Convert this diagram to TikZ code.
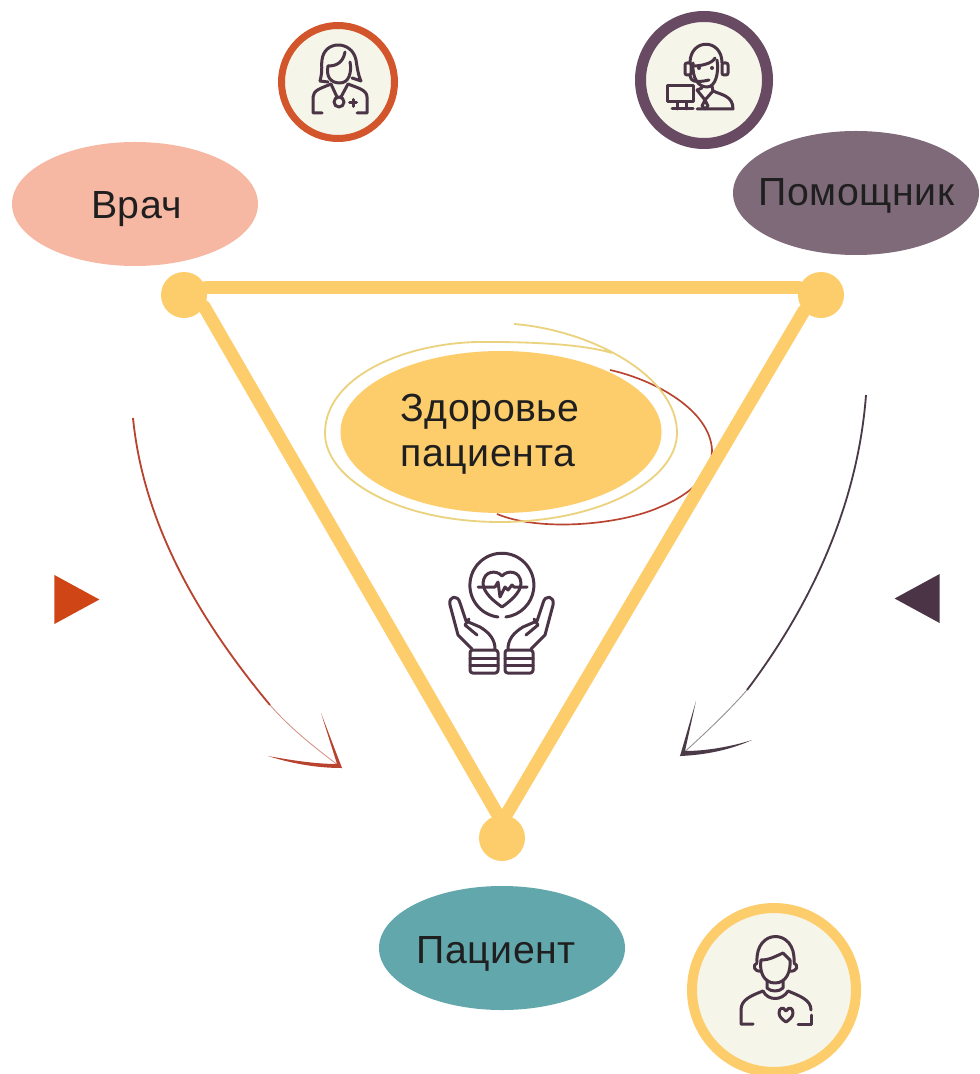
\documentclass[tikz,border=0pt]{standalone}
\usepackage{fontspec}
\setmainfont[LetterSpace=1.5]{Liberation Sans}
\usetikzlibrary{shapes.geometric, positioning}
\definecolor{sand}{HTML}{FDCD6B}
\definecolor{peach}{HTML}{F7B8A3}
\definecolor{plum}{HTML}{7F6A7A}
\definecolor{teal2}{HTML}{62A7AC}
\definecolor{cream}{HTML}{F5F5E9}
\definecolor{rust}{HTML}{D2552B}
\definecolor{grape}{HTML}{684A63}
\definecolor{inkline}{HTML}{4A3445}
\definecolor{pencilred}{HTML}{B8432F}
\definecolor{pencildark}{HTML}{4A3A48}
\definecolor{pencilyellow}{HTML}{EBD27E}
\definecolor{markred}{HTML}{CF4516}
% text of an ellipse: it must not widen the shape
\newcommand{\blobtext}[3]{\smash{\makebox[0pt]{\hspace*{#1}\raisebox{#2}{#3}}}}
\tikzset{
	blob/.style={ellipse, draw=none, inner sep=0pt, text=black!88,
		minimum width=7.38cm, minimum height=3.72cm,
		font=\fontsize{33.5}{38.3}\selectfont},
	cornerdot/.style={circle, fill=sand, inner sep=0pt, minimum size=1.38cm},
	sideline/.style={draw=sand, line width=0.39cm, line cap=round},
	iconring/.style={circle, fill=cream, inner sep=0pt},
	iconline/.style={draw=inkline, line width=0.09cm, line cap=round, line join=round},
	marker/.style={isosceles triangle, isosceles triangle stretches, inner sep=0pt,
		minimum height=1.35cm, minimum width=1.47cm, anchor=apex}
}
\begin{document}
\begin{tikzpicture}[x=0.03cm,y=-0.03cm]
	\useasboundingbox (0,0) rectangle (979,1074);
	% pencil rings round the centre
	\node[blob, fill=sand, minimum width=9.63cm, minimum height=4.86cm] (health) at (501,432) {%
		\blobtext{-18.5pt}{8.6pt}{\begin{tabular}[t]{@{}l@{}}Здоровье\\пациента\end{tabular}}};
	\draw[draw=pencilred, line width=0.05cm] (610,370) .. controls (655,380) and (710,410) .. (712,450)
		.. controls (712,475) and (690,495) .. (660,507)
		.. controls (620,525) and (540,532) .. (497,514);
	\draw[draw=pencilyellow, line width=0.055cm] (514,324) .. controls (590,330) and (677,375) .. (677,433)
		.. controls (677,480) and (600,522) .. (500,522)
		.. controls (400,522) and (325,480) .. (325,433)
		.. controls (325,375) and (410,340) .. (490,342)
		.. controls (540,342) and (585,345) .. (612,353);
	% ellipses
	\node[blob, fill=peach] (doctor) at (135,204) {\blobtext{3pt}{-12.8pt}{Врач}};
	\node[blob, fill=plum] (helper) at (856,193) {\blobtext{1pt}{-11pt}{Помощник}};
	\node[blob, fill=teal2] (patient) at (502,948) {\blobtext{-10pt}{-13.6pt}{Пациент}};
	% triangle
	\node[cornerdot] (docdot) at (184,295) {};
	\node[cornerdot] (helpdot) at (821,295) {};
	\node[cornerdot] (patdot) at (502,838) {};
	\draw[sideline] (docdot.18) -- (helpdot.162);
	\draw[sideline] (docdot.-30) -- (patdot.100);
	\draw[sideline] (helpdot.223) -- (patdot.80);
	% side markers
	\node[marker, fill=markred] (leftmark) at (100,599.5) {};
	\node[marker, fill=inkline, shape border rotate=180] (rightmark) at (894,598.5) {};
	% arrows
	\coordinate (leftstart) at (133,418);
	\coordinate (leftmid) at (270,705);
	\coordinate (lefttip) at (342,768);
	\coordinate (leftarma) at (321,713);
	\coordinate (leftarmb) at (268,756);
	\draw[pencilred, line width=0.055cm] (leftstart) .. controls (143,520) and (195,615) .. (leftmid);
	\draw[pencilred!60, line width=0.025cm] (leftmid) .. controls (290,728) and (315,748) .. (lefttip);
	\fill[pencilred] (leftarma) -- (lefttip) .. controls (315,768) and (290,763) .. (leftarmb)
		.. controls (290,760) and (315,764) .. (337,764) -- cycle;
	\coordinate (rightstart) at (866,395);
	\coordinate (rightmid) at (747,690);
	\coordinate (righttip) at (680,756);
	\coordinate (rightarma) at (696,701);
	\coordinate (rightarmb) at (752,740);
	\draw[pencildark, line width=0.055cm] (rightstart) .. controls (858,500) and (815,600) .. (rightmid);
	\draw[pencildark!60, line width=0.025cm] (rightmid) .. controls (725,715) and (700,738) .. (righttip);
	\fill[pencildark] (rightarma) -- (righttip) .. controls (705,755) and (730,750) .. (rightarmb)
		.. controls (730,747) and (705,751) .. (685,751) -- cycle;
	% doctor icon
	\node[iconring, draw=rust, line width=0.21cm, minimum size=3.39cm] (doctorring) at (338,82) {};
	\draw[iconline] (320,81) .. controls (323,70) and (321,64) .. (322,60) .. controls (324,40) and (352,40) .. (356,60)
		.. controls (357,66) and (358,75) .. (361,81) -- (352,78);
	\draw[iconline] (328,82) -- (320,81);
	\draw[iconline] (328,66) .. controls (326,76) and (330,83) .. (340,83) .. controls (349,83) and (352,72) .. (350,62);
	\draw[iconline] (328,66) .. controls (336,66) and (343,63) .. (345,52);
	\draw[iconline] (322,113) -- (313,113) -- (313,97) .. controls (313,90) and (322,88) .. (331,84) -- (337,97);
	\draw[iconline] (357,113) -- (367,113) -- (367,97) .. controls (367,90) and (358,88) .. (348,84) -- (341,97);
	\draw[iconline] (339,102) circle[radius=0.15cm];
	\draw[iconline] (349.5,103) -- (356.5,103) (353,99.5) -- (353,106.5);
	% helper icon
	\node[iconring, draw=grape, line width=0.33cm, minimum size=3.81cm] (helperring) at (704,80) {};
	\draw[iconline] (690,63) .. controls (690,38) and (722,38) .. (722,63);
	\draw[iconline] (693,63) .. controls (692,78) and (698,87) .. (707,87) .. controls (716,87) and (719,72) .. (717,60);
	\draw[iconline] (693,66) .. controls (700,66) and (712,64) .. (715,58);
	\draw[iconline, rounded corners=0.06cm] (685,63) rectangle (691,75);
	\draw[iconline, rounded corners=0.06cm] (722,63) rectangle (728,75);
	\fill[inkline] (699,68) circle[radius=0.06cm] (712,68) circle[radius=0.06cm];
	\draw[iconline] (690,76) .. controls (691,82) and (696,82) .. (704,81) -- (709,80);
	\draw[iconline] (667,102) -- (667,86) -- (693,86) -- (693,102) -- cycle;
	\draw[iconline] (677,102) -- (677,109) (686,102) -- (686,109);
	\draw[iconline] (672,109) -- (693,109);
	\draw[iconline] (697,90) -- (705,100) -- (713,91) .. controls (722,95) and (733,96) .. (733,109) -- (697,109);
	\draw[iconline] (702,88) -- (697,90) (713,91) -- (712,86);
	\draw[iconline] (705,100) -- (702,106) -- (705,109) -- (708,106) -- cycle;
	% patient icon
	\node[iconring, draw=sand, line width=0.3cm, minimum size=4.92cm] (patientring) at (774,990) {};
	\draw[iconline] (757,962) .. controls (755,928) and (796,928) .. (794,962);
	\draw[iconline] (761,960) .. controls (759,972) and (764,983) .. (775,983) .. controls (786,983) and (791,972) .. (790,960);
	\draw[iconline] (761,960) .. controls (770,960) and (776,956) .. (783,953) -- (790,960);
	\draw[iconline] (757,963) .. controls (752,965) and (754,972) .. (761,971);
	\draw[iconline] (794,963) .. controls (799,965) and (797,972) .. (790,971);
	\draw[iconline] (767,980) -- (767,988) .. controls (771,992) and (779,992) .. (783,988) -- (783,980);
	\draw[iconline] (763,991) .. controls (768,1001) and (782,1001) .. (788,991);
	\draw[iconline] (753,1024) -- (741,1024) -- (741,1010) .. controls (741,1000) and (750,996) .. (763,991);
	\draw[iconline] (788,991) .. controls (800,996) and (811,1000) .. (811,1010);
	\draw[iconline] (811,1015) -- (811,1024) -- (798,1024);
	\draw[iconline] (786,1011) .. controls (783,1006) and (779,1008) .. (779,1013) .. controls (779,1017) and (783,1020) .. (786,1022)
		.. controls (789,1020) and (793,1017) .. (793,1013) .. controls (793,1008) and (789,1006) .. (786,1011);
	% heart and hands
	\draw[iconline] (498,617) arc[start angle=263, end angle=-83, radius=0.96cm];
	\draw[iconline] (502,576) .. controls (497,570) and (484,570) .. (483,583) .. controls (483,593) and (495,602) .. (502,607)
		.. controls (509,602) and (521,593) .. (521,583) .. controls (520,570) and (507,570) .. (502,576);
	\draw[iconline] (478,587) -- (495,587) -- (498,582) -- (500,597) -- (505,587) -- (508,590) -- (512,585) -- (514,587) -- (527,587);
	\draw[iconline, rounded corners=0.08cm] (470,650) rectangle (498,673);
	\draw[iconline, rounded corners=0.08cm] (505,650) rectangle (533,673);
	\draw[iconline] (470,658) -- (498,658) (470,665) -- (498,665);
	\draw[iconline] (505,658) -- (533,658) (505,665) -- (533,665);
	\draw[iconline] (472,649) -- (458,635) -- (450,605) .. controls (448,596) and (458,594) .. (460,603) -- (466,621) -- (480,627)
		.. controls (490,633) and (495,640) .. (495,649);
	\draw[iconline] (469,619) -- (465,625) -- (477,635);
	\draw[iconline] (531,649) -- (545,635) -- (553,605) .. controls (555,596) and (545,594) .. (543,603) -- (537,621) -- (523,627)
		.. controls (513,633) and (508,640) .. (508,649);
	\draw[iconline] (534,619) -- (538,625) -- (526,635);
\end{tikzpicture}
\end{document}
